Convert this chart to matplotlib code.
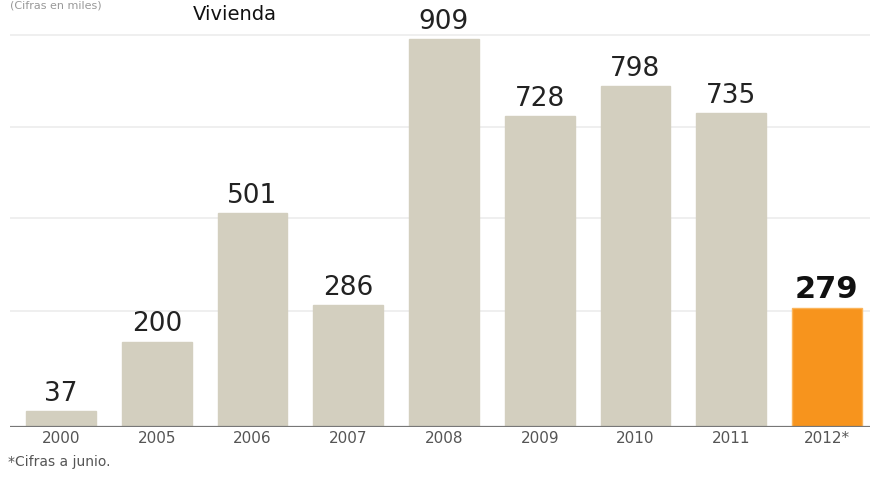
import matplotlib
matplotlib.use("Agg")
import matplotlib.pyplot as plt

categories = ["2000", "2005", "2006", "2007", "2008", "2009", "2010", "2011", "2012*"]
values = [37, 200, 501, 286, 909, 728, 798, 735, 279]
highlight = [False, False, False, False, False, False, False, False, True]
gridlines = [272, 489, 703, 918]

fig = plt.figure(figsize=(8.78, 4.78), dpi=100)
ax = fig.add_axes([10/878, 51/478, 860/878, 427/478])
ax.set_ylim(0, 1000)
ax.set_xlim(-0.533, 8.45)

for g in gridlines:
    ax.axhline(g, color="#ececec", lw=1.2, zorder=0)

x = list(range(len(categories)))
colors = ["#f7941d" if h else "#d3cfbf" for h in highlight]
edges = ["#fbb45a" if h else "#d3cfbf" for h in highlight]
ax.bar(x, values, width=0.73, color=colors, edgecolor=edges, linewidth=1, zorder=2)

for xi, v, h in zip(x, values, highlight):
    if h:
        ax.annotate(str(v), (xi, v), xytext=(0, 3), textcoords="offset points",
                    ha="center", va="bottom", fontsize=22, fontweight="bold",
                    color="#111111", family="DejaVu Sans")
    else:
        ax.annotate(str(v), (xi, v), xytext=(0, 3), textcoords="offset points",
                    ha="center", va="bottom", fontsize=19, color="#222222",
                    family="DejaVu Sans")

ax.axhline(0, color="#777777", lw=1.6, zorder=3)
ax.set_xticks(x)
ax.set_xticklabels(categories, fontsize=11, color="#555555", family="DejaVu Sans")
ax.tick_params(axis="x", length=0, pad=3)
ax.set_yticks([])
for s in ax.spines.values():
    s.set_visible(False)

fig.text(8/878, 1 - 462/478, "*Cifras a junio.", fontsize=10, color="#555555",
         va="center", ha="left", family="DejaVu Sans")
fig.text(193/878, 1 - 20/478, "Vivienda", fontsize=14, color="#111111",
         va="baseline", ha="left", family="DejaVu Sans")
fig.text(10/878, 1 - 1/478, "(Cifras en miles)", fontsize=8, color="#999999",
         va="top", ha="left", family="DejaVu Sans")

fig.savefig("out.png", dpi=100)
